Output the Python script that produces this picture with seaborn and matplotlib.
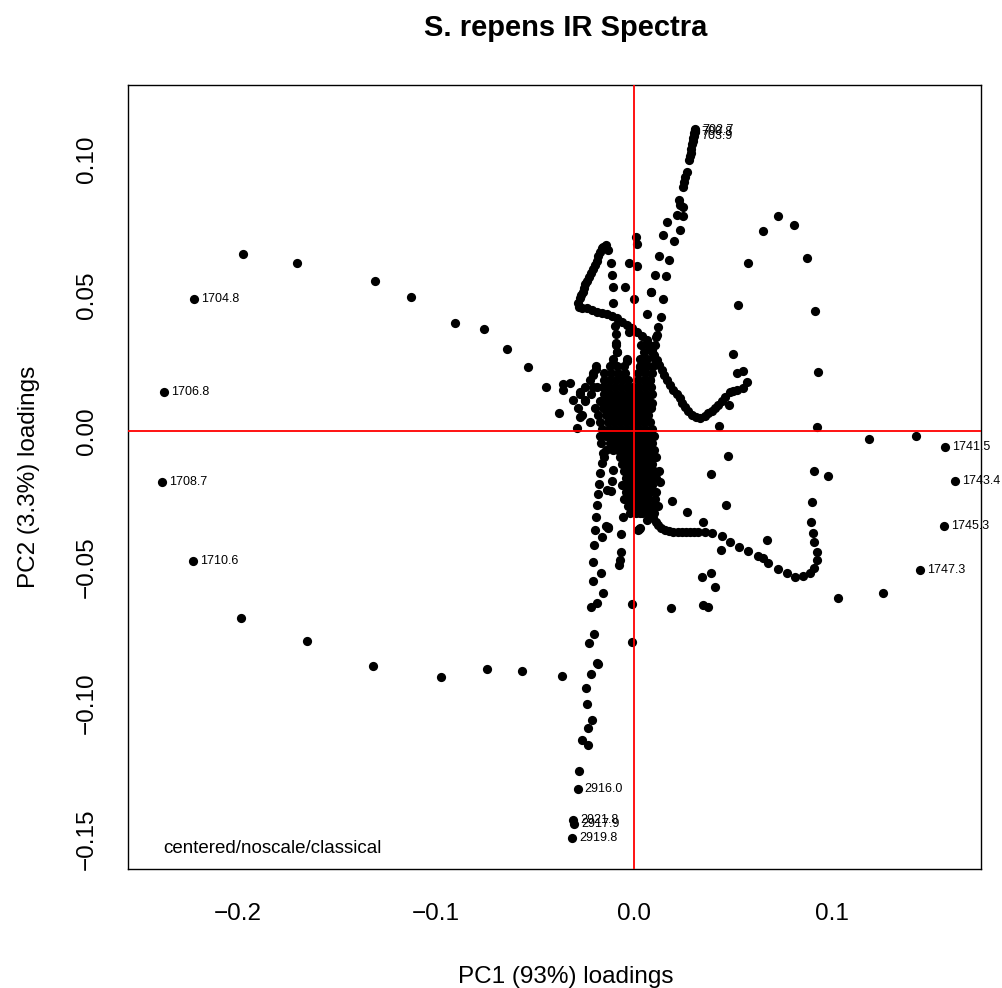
import numpy as np
import pandas as pd
import matplotlib
matplotlib.use("Agg")
import matplotlib.pyplot as plt
import seaborn as sns

# ==========================================
# DATA (PC1 / PC2 loadings)
# ==========================================

# outer arc on the left (1700-1750 cm-1 band)
left_arc = [
    (-0.1975, 0.0650), (-0.1700, 0.0618), (-0.1307, 0.0553), (-0.1125, 0.0493),
    (-0.0904, 0.0397), (-0.0758, 0.0375), (-0.0641, 0.0301), (-0.0535, 0.0235),
    (-0.0446, 0.0161), (-0.0357, 0.0172), (-0.0323, 0.0178), (-0.0310, 0.0114),
    (-0.0377, 0.0065), (-0.0289, 0.0012), (-0.0357, 0.0151), (-0.0273, 0.0144),
    (-0.0247, 0.0114), (-0.0206, 0.0163), (-0.0273, 0.0053),
    (-0.1985, -0.0688), (-0.1650, -0.0772), (-0.1318, -0.0864), (-0.0975, -0.0904),
    (-0.0742, -0.0875), (-0.0566, -0.0882), (-0.0364, -0.0900),
]

# arm running up to ~700 cm-1
top_arm = [
    (0.0308, 0.1109), (0.0306, 0.1102), (0.0303, 0.1094), (0.0299, 0.1076),
    (0.0298, 0.1066), (0.0293, 0.1054), (0.0290, 0.1038), (0.0286, 0.1021),
    (0.0283, 0.1010), (0.0279, 0.0996), (0.0266, 0.0953), (0.0260, 0.0935),
    (0.0253, 0.0917), (0.0249, 0.0896), (0.0229, 0.0849), (0.0232, 0.0831),
    (0.0249, 0.0825), (0.0246, 0.0790), (0.0216, 0.0794), (0.0165, 0.0769),
    (0.0232, 0.0739), (0.0202, 0.0700), (0.0148, 0.0720), (0.0178, 0.0629),
    (0.0128, 0.0644), (0.0162, 0.0570), (0.0106, 0.0572), (0.0148, 0.0484),
    (0.0086, 0.0512), (0.0135, 0.0418), (0.0067, 0.0429), (0.0123, 0.0383),
    (0.0115, 0.0353), (0.0111, 0.0347), (0.0106, 0.0316),
]

# points near the PC1 = 0 line, upper half
upper_column = [
    (0.0010, 0.0714), (0.0014, 0.0686), (-0.0024, 0.0617), (0.0014, 0.0607),
    (0.0000, 0.0485), (-0.0045, 0.0528), (-0.0108, 0.0528), (-0.0108, 0.0472),
    (0.0084, 0.0512), (-0.0096, 0.0387), (-0.0024, 0.0363), (-0.0091, 0.0355),
    (-0.0091, 0.0322), (-0.0084, 0.0292), (-0.0034, 0.0258), (-0.0105, 0.0249),
    (-0.0192, 0.0227), (-0.0206, 0.0206), (-0.0118, 0.0619), (-0.0113, 0.0574),
    (0.0056, 0.0255), (0.0030, 0.0236), (0.0081, 0.0188), (0.0089, 0.0102),
]

# hook and the curve that runs down to the right
hook = [
    (-0.0130, 0.0665), (-0.0141, 0.0684), (-0.0155, 0.0678), (-0.0162, 0.0672),
    (-0.0172, 0.0659), (-0.0180, 0.0643), (-0.0188, 0.0626), (-0.0198, 0.0610),
    (-0.0209, 0.0594), (-0.0218, 0.0580), (-0.0226, 0.0567), (-0.0236, 0.0553),
    (-0.0246, 0.0540), (-0.0252, 0.0526), (-0.0259, 0.0512), (-0.0266, 0.0500),
    (-0.0273, 0.0488), (-0.0281, 0.0469), (-0.0278, 0.0456), (-0.0262, 0.0454),
    (-0.0239, 0.0451), (-0.0214, 0.0445), (-0.0188, 0.0439), (-0.0163, 0.0435),
    (-0.0138, 0.0430), (-0.0112, 0.0422), (-0.0087, 0.0414), (-0.0062, 0.0402),
    (-0.0037, 0.0390), (-0.0012, 0.0378), (0.0014, 0.0365), (0.0039, 0.0350),
    (0.0064, 0.0335), (0.0078, 0.0316), (0.0089, 0.0298), (0.0102, 0.0280),
    (0.0115, 0.0261), (0.0128, 0.0243), (0.0140, 0.0224), (0.0152, 0.0206),
    (0.0165, 0.0188), (0.0180, 0.0170), (0.0198, 0.0151), (0.0215, 0.0135),
    (0.0232, 0.0120), (0.0245, 0.0104), (0.0258, 0.0089), (0.0275, 0.0074),
    (0.0291, 0.0059), (0.0312, 0.0053), (0.0333, 0.0047), (0.0359, 0.0055),
    (0.0375, 0.0065), (0.0392, 0.0075), (0.0409, 0.0085), (0.0426, 0.0096),
    (0.0443, 0.0110), (0.0460, 0.0124), (0.0485, 0.0144), (0.0502, 0.0148),
    (0.0519, 0.0151), (0.0552, 0.0157), (0.0569, 0.0181), (0.0552, 0.0222),
    (0.0519, 0.0212),
]

# big loop on the right side
right_loop = [
    (0.0498, 0.0283), (0.0527, 0.0463), (0.0577, 0.0619), (0.0650, 0.0735),
    (0.0729, 0.0792), (0.0810, 0.0758), (0.0875, 0.0635), (0.0916, 0.0441),
    (0.0929, 0.0217), (0.0923, 0.0015), (0.0909, -0.0148), (0.0981, -0.0165),
    (0.0899, -0.0261), (0.0894, -0.0336), (0.0903, -0.0376), (0.0909, -0.0407),
    (0.0923, -0.0444), (0.0926, -0.0474), (0.0909, -0.0505), (0.0889, -0.0523),
    (0.0855, -0.0533), (0.0813, -0.0536), (0.0771, -0.0523), (0.0729, -0.0508),
    (0.0675, -0.0484), (0.0653, -0.0468), (0.0628, -0.0460), (0.0577, -0.0441),
    (0.0532, -0.0425), (0.0485, -0.0407), (0.0443, -0.0386), (0.0392, -0.0376),
    (0.0359, -0.0370), (0.0350, -0.0333), (0.0325, -0.0372), (0.0304, -0.0372),
    (0.0283, -0.0372), (0.0262, -0.0372), (0.0241, -0.0372), (0.0220, -0.0372),
    (0.0198, -0.0372), (0.0177, -0.0368), (0.0157, -0.0364), (0.0135, -0.0355),
    (0.0123, -0.0346), (0.0097, -0.0321), (0.0111, -0.0335), (0.0086, -0.0310),
    (0.0056, -0.0290), (0.0066, -0.0327), (0.0030, -0.0301),
    (0.1188, -0.0029), (0.1423, -0.0017), (0.1256, -0.0597), (0.1029, -0.0615),
]

# loose points between the core and the right loop
scattered = [
    (0.0473, -0.0091), (0.0387, -0.0159), (0.0463, -0.0271), (0.0269, -0.0299),
    (0.0193, -0.0258), (0.0670, -0.0401), (0.0439, -0.0438), (0.0342, -0.0536),
    (0.0389, -0.0523), (0.0409, -0.0572), (0.0350, -0.0640), (0.0375, -0.0646),
    (0.0187, -0.0652), (0.0481, 0.0096), (0.0431, 0.0018), (0.0131, -0.0186),
]

# column running down to the 2900 cm-1 band
lower_column = [
    (-0.0158, -0.0080), (-0.0163, -0.0119), (-0.0105, -0.0070), (-0.0172, -0.0156),
    (-0.0175, -0.0195), (-0.0113, -0.0183), (-0.0108, -0.0143), (-0.0183, -0.0232),
    (-0.0138, -0.0217), (-0.0118, -0.0219), (-0.0188, -0.0272), (-0.0192, -0.0317),
    (-0.0197, -0.0364), (-0.0200, -0.0419), (-0.0206, -0.0480), (-0.0209, -0.0551),
    (-0.0217, -0.0648), (-0.0229, -0.0778), (-0.0216, -0.0894), (-0.0244, -0.0946),
    (-0.0239, -0.1004), (-0.0214, -0.1063), (-0.0234, -0.1093), (-0.0264, -0.1136),
    (-0.0231, -0.1154), (-0.0279, -0.1249),
    (-0.0133, -0.0354), (-0.0163, -0.0391), (-0.0067, -0.0379), (-0.0057, -0.0317),
    (-0.0067, -0.0444), (-0.0071, -0.0474), (-0.0076, -0.0493), (-0.0167, -0.0523),
    (-0.0155, -0.0594), (-0.0188, -0.0631), (-0.0200, -0.0746), (-0.0188, -0.0852),
    (-0.0180, -0.0857), (-0.0141, -0.0349), (-0.0130, -0.0358), (0.0025, -0.0361),
    (-0.0009, -0.0637), (-0.0012, -0.0776), (0.0022, -0.0364), (0.0030, -0.0358),
]

# dense core around the origin: one row of PC1 values per PC2 level
core_levels = [
    0.0316, 0.0290, 0.0265, 0.0239, 0.0213, 0.0188, 0.0162, 0.0136, 0.0110,
    0.0085, 0.0059, 0.0033, 0.0007, -0.0018, -0.0044, -0.0070, -0.0096,
    -0.0121, -0.0147, -0.0173, -0.0199, -0.0224, -0.0250, -0.0276, -0.0301,
]
core_rows = [
    [-0.0091, 0.0035, 0.0071],
    [-0.0086, 0.0051, 0.0091],
    [-0.0106, -0.0035, 0.0030, 0.0066, 0.0106],
    [-0.0192, -0.0121, -0.0086, -0.0051, 0.0030, 0.0066, 0.0096],
    [-0.0207, -0.0152, -0.0116, -0.0081, -0.0045, 0.0020, 0.0056, 0.0091],
    [-0.0222, -0.0152, -0.0121, -0.0091, -0.0061, -0.0030, 0.0020, 0.0051, 0.0081],
    [-0.0247, -0.0187, -0.0157, -0.0126, -0.0096, -0.0066, -0.0035, -0.0005, 0.0025, 0.0056, 0.0086],
    [-0.0273, -0.0217, -0.0152, -0.0121, -0.0091, -0.0061, -0.0030, 0.0000, 0.0030, 0.0061, 0.0091],
    [-0.0247, -0.0172, -0.0141, -0.0111, -0.0081, -0.0051, -0.0020, 0.0010, 0.0040, 0.0071],
    [-0.0283, -0.0197, -0.0157, -0.0126, -0.0096, -0.0066, -0.0035, -0.0005, 0.0025, 0.0056, 0.0086],
    [-0.0263, -0.0182, -0.0141, -0.0111, -0.0081, -0.0051, -0.0020, 0.0010, 0.0040, 0.0071],
    [-0.0222, -0.0172, -0.0131, -0.0101, -0.0071, -0.0040, -0.0010, 0.0020, 0.0051, 0.0081],
    [-0.0162, -0.0126, -0.0096, -0.0066, -0.0035, -0.0005, 0.0025, 0.0056, 0.0091],
    [-0.0172, -0.0141, -0.0111, -0.0081, -0.0051, -0.0020, 0.0010, 0.0040, 0.0071, 0.0101],
    [-0.0167, -0.0121, -0.0091, -0.0061, -0.0030, 0.0000, 0.0030, 0.0061, 0.0091],
    [-0.0141, -0.0081, -0.0051, -0.0020, 0.0010, 0.0040, 0.0071, 0.0101],
    [-0.0152, -0.0071, -0.0040, -0.0010, 0.0020, 0.0051, 0.0081, 0.0111],
    [-0.0061, -0.0030, 0.0000, 0.0030, 0.0061, 0.0091],
    [-0.0051, -0.0020, 0.0010, 0.0040, 0.0071, 0.0101, 0.0126],
    [-0.0040, -0.0010, 0.0020, 0.0051, 0.0081, 0.0111],
    [-0.0061, -0.0030, 0.0000, 0.0030, 0.0061, 0.0091],
    [-0.0040, -0.0010, 0.0020, 0.0051, 0.0081, 0.0111],
    [-0.0051, -0.0020, 0.0010, 0.0040, 0.0071, 0.0106],
    [-0.0030, 0.0000, 0.0030, 0.0061, 0.0091, 0.0121],
    [-0.0020, 0.0010, 0.0040, 0.0071, 0.0101],
]

# labelled wavenumbers
label_text = [
    "1704.8", "1706.8", "1708.7", "1710.6",
    "1741.5", "1743.4", "1745.3", "1747.3",
    "2916.0", "2921.8", "2917.9", "2919.8",
    "702.7", "700.8", "703.9",
]
label_x = [
    -0.2220, -0.2375, -0.2384, -0.2227,
    0.1571, 0.1623, 0.1566, 0.1444,
    -0.0284, -0.0307, -0.0303, -0.0313,
    0.0308, 0.0306, 0.0303,
]
label_y = [
    0.0485, 0.0144, -0.0188, -0.0478,
    -0.0060, -0.0183, -0.0349, -0.0511,
    -0.1315, -0.1428, -0.1446, -0.1497,
    0.1106, 0.1098, 0.1086,
]

# ==========================================
# BUILD TABLE
# ==========================================

pts = left_arc + top_arm + upper_column + hook + right_loop + scattered + lower_column
for lvl, row in zip(core_levels, core_rows):
    pts += [(x, lvl) for x in row]
pts += list(zip(label_x, label_y))

df = pd.DataFrame(pts, columns=["pc1", "pc2"])

# ==========================================
# PLOT
# ==========================================

sns.set_style("white")
plt.rcParams["font.family"] = ["Liberation Sans", "DejaVu Sans"]
plt.rcParams["text.color"] = "black"
plt.rcParams["axes.labelcolor"] = "black"
plt.rcParams["xtick.color"] = "black"
plt.rcParams["ytick.color"] = "black"

fig = plt.figure(figsize=(10.03, 9.88), dpi=100)
ax = fig.add_axes([0.1281, 0.1204, 0.85, 0.7936])

sns.scatterplot(
    data=df,
    x="pc1",
    y="pc2",
    color="black",
    s=44,
    linewidth=0,
    ax=ax,
    zorder=2
)

ax.axhline(0, color="red", lw=1.3, zorder=3)
ax.axvline(0, color="red", lw=1.3, zorder=3)

for t, x, y in zip(label_text, label_x, label_y):
    ax.annotate(
        t,
        (x, y),
        xytext=(5, 0),
        textcoords="offset points",
        ha="left",
        va="center",
        fontsize=9,
        color="black",
        zorder=4
    )

ax.text(
    -0.2379, -0.1551,
    "centered/noscale/classical",
    fontsize=13.5,
    ha="left",
    va="baseline",
    color="black"
)

ax.set_xlim(-0.2553, 0.1753)
ax.set_ylim(-0.161, 0.1272)

ax.set_xticks([-0.2, -0.1, 0.0, 0.1])
ax.set_xticklabels(["\u22120.2", "\u22120.1", "0.0", "0.1"])
ax.set_yticks([-0.15, -0.10, -0.05, 0.0, 0.05, 0.10])
ax.set_yticklabels(["\u22120.15", "\u22120.10", "\u22120.05", "0.00", "0.05", "0.10"],
                   rotation=90, va="center")

ax.tick_params(axis="both", direction="out", length=10.8, width=0.9,
               labelsize=17.5, color="black", labelcolor="black")
ax.tick_params(axis="x", pad=14)
ax.tick_params(axis="y", pad=11)

for sp in ax.spines.values():
    sp.set_visible(True)
    sp.set_color("black")
    sp.set_linewidth(1.0)

ax.set_xlabel("")
ax.set_ylabel("")

fig.text(565.7 / 1003, 1 - 36 / 988, "S. repens IR Spectra",
         ha="center", va="baseline", fontsize=21, fontweight="bold", color="black")
fig.text(565.7 / 1003, 1 - 983 / 988, "PC1 (93%) loadings",
         ha="center", va="baseline", fontsize=17.5, color="black")
fig.text(29 / 1003, 1 - 477 / 988, "PC2 (3.3%) loadings",
         ha="center", va="center", rotation=90, fontsize=17.5, color="black")

fig.savefig("out.png", dpi=100)
plt.close(fig)
